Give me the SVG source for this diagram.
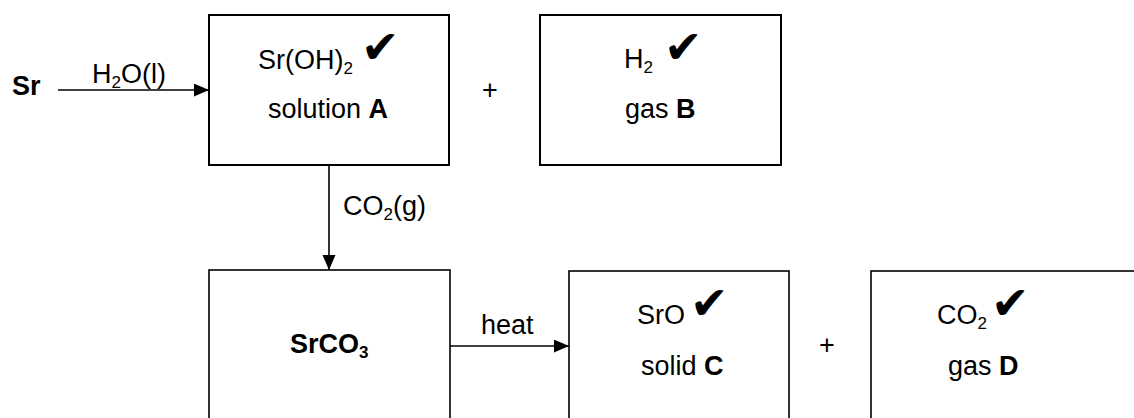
<svg xmlns="http://www.w3.org/2000/svg" width="1134" height="418" viewBox="0 0 1134 418">
<style>
text{font-family:"Liberation Sans",Arial,sans-serif;font-size:27px;fill:#000}
.b{font-weight:bold}
.sub{font-size:17px}
.chk{font-family:"DejaVu Sans",sans-serif;font-size:46px}
.box{fill:#fff;stroke:#000;stroke-width:2}
.box2{fill:#fff;stroke:#000;stroke-width:1.6}
.ln{stroke:#000;stroke-width:1.6;fill:none}
</style>
<defs>
<marker id="ah" markerUnits="userSpaceOnUse" markerWidth="16" markerHeight="14" refX="15" refY="6.5" orient="auto">
<path d="M0,0 L15,6.5 L0,13 z" fill="#000"/>
</marker>
</defs>
<rect width="1134" height="418" fill="#fff"/>
<g id="connectors">
<line class="ln" x1="58" y1="90" x2="209" y2="90" marker-end="url(#ah)"/>
<text x="92" y="83">H<tspan class="sub" dy="5">2</tspan><tspan dy="-5">O(l)</tspan></text>
<line class="ln" x1="329" y1="165" x2="329" y2="270" marker-end="url(#ah)"/>
<text x="343" y="215">CO<tspan class="sub" dy="5">2</tspan><tspan dy="-5">(g)</tspan></text>
<line class="ln" x1="450" y1="346" x2="569" y2="346" marker-end="url(#ah)"/>
<text x="481" y="334">heat</text>
</g>
<g id="sr">
<text class="b" x="12" y="95">Sr</text>
</g>
<g id="solutionA">
<rect class="box" x="209" y="15" width="240" height="150"/>
<text x="258" y="69">Sr(OH)<tspan class="sub" dy="5">2</tspan></text>
<text class="chk" x="361" y="63">✔</text>
<text x="268" y="118">solution <tspan class="b">A</tspan></text>
</g>
<text x="482" y="99">+</text>
<g id="gasB">
<rect class="box" x="540" y="15" width="241" height="150"/>
<text x="624" y="68">H<tspan class="sub" dy="5">2</tspan></text>
<text class="chk" x="664" y="63">✔</text>
<text x="625" y="118">gas <tspan class="b">B</tspan></text>
</g>
<g id="srco3">
<rect class="box2" x="209" y="270" width="241" height="160"/>
<text class="b" x="290" y="353">SrCO<tspan class="sub" dy="5">3</tspan></text>
</g>
<g id="solidC">
<rect class="box2" x="569" y="271" width="220" height="160"/>
<text x="637" y="324">SrO</text>
<text class="chk" x="690" y="319">✔</text>
<text x="641" y="375">solid <tspan class="b">C</tspan></text>
</g>
<text x="819" y="354">+</text>
<g id="gasD">
<rect class="box2" x="871" y="271" width="280" height="160"/>
<text x="937" y="324">CO<tspan class="sub" dy="5">2</tspan></text>
<text class="chk" x="991" y="319">✔</text>
<text x="948" y="375">gas <tspan class="b">D</tspan></text>
</g>
</svg>
